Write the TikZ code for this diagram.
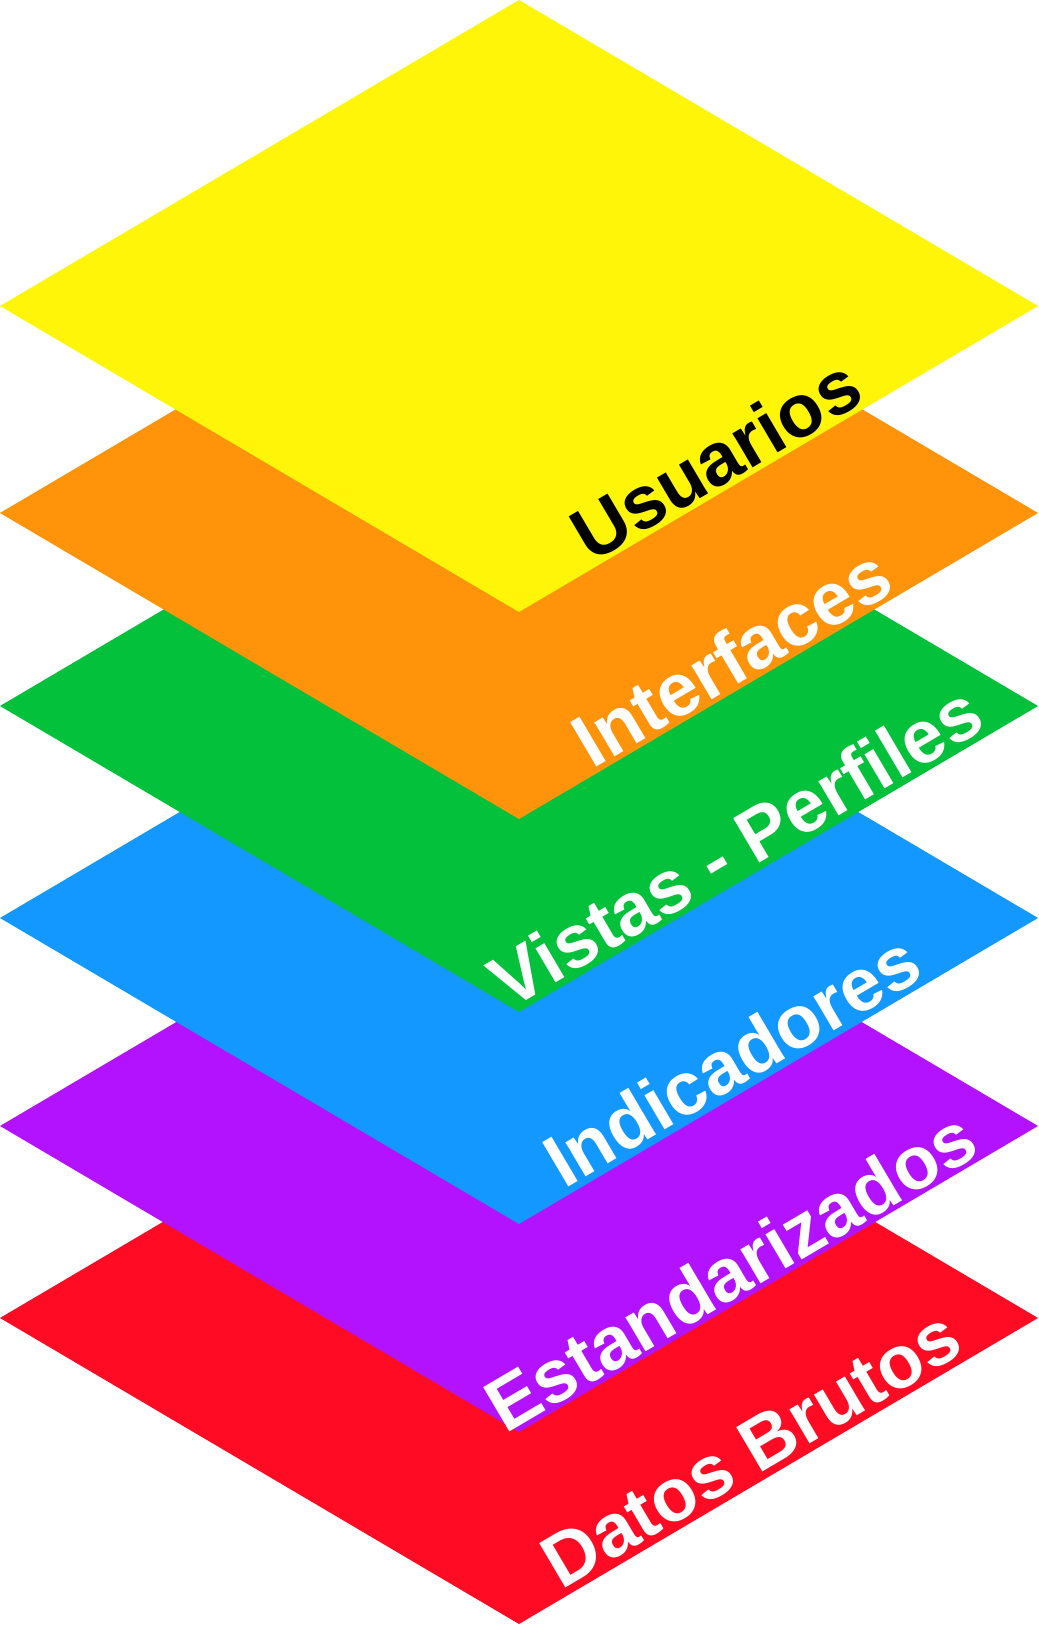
\documentclass[tikz,border=0pt]{standalone}
\usepackage{fontspec}
\setmainfont{Liberation Sans}
\usepackage{xcolor}
\usepackage{tikz}
\usetikzlibrary{positioning,calc}

\definecolor{capaamarilla}{RGB}{255,245,8}
\definecolor{capanaranja}{RGB}{255,148,10}
\definecolor{capaverde}{RGB}{3,193,59}
\definecolor{capaazul}{RGB}{18,152,255}
\definecolor{capamorada}{RGB}{178,18,255}
\definecolor{caparoja}{RGB}{255,11,36}

\tikzset{
  capa/.style={fill=#1, draw=none},
  rotulo/.style={font=\fontsize{21.3}{25}\selectfont\bfseries, text=white,
    rotate=30.52, anchor=base, inner sep=0pt}
}

\begin{document}
\begin{tikzpicture}
			\useasboundingbox (0,0) rectangle (10.38,16.25);
			% Layers, from the bottom one up (each covers the one below)
			\foreach \cy/\col in {3.07/caparoja, 4.99/capamorada, 7.07/capaazul,
			                      9.19/capaverde, 11.12/capanaranja, 13.19/capaamarilla}
			{
				\fill[capa=\col] (5.19,\cy-3.06) -- (10.38,\cy) -- (5.19,\cy+3.06) -- (0,\cy) -- cycle;
			}
			
			% Layer names along the lower right edges
			\node[rotulo] (datos) at (7.64,1.54) {Datos Brutos};
			\node[rotulo] (estandar) at (7.44,3.31) {Estandarizados};
			\node[rotulo] (indic) at (7.45,5.42) {Indicadores};
			\node[rotulo] (vistas) at (7.49,7.56) {Vistas - Perfiles};
			\node[rotulo] (interf) at (7.45,9.45) {Interfaces};
			\node[rotulo, text=black] (usuarios) at (7.29,11.43) {Usuarios};
\end{tikzpicture}
\end{document}
